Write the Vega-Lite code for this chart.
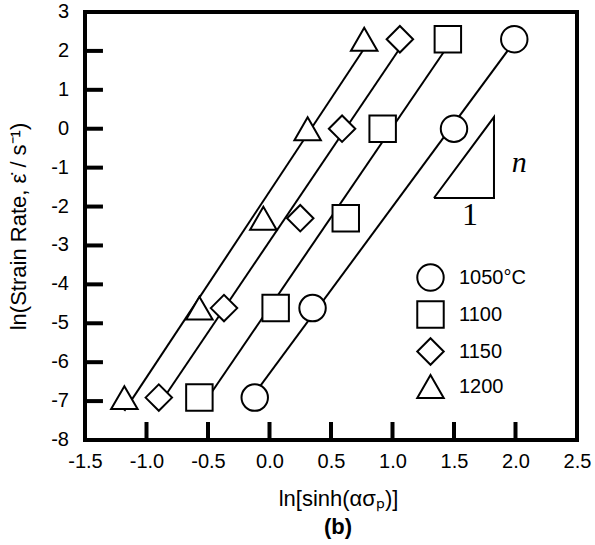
{
  "$schema": "https://vega.github.io/schema/vega-lite/v6.json",
  "width": 492,
  "height": 428,
  "autosize": "none",
  "padding": {"left": 85, "top": 12, "right": 18, "bottom": 105},
  "background": "white",
  "title": {"text": "(b)", "orient": "bottom", "anchor": "middle", "dx": 7, "fontSize": 22, "fontWeight": "bold", "font": "Liberation Sans", "color": "black", "offset": 8},
  "config": {
    "locale": {"number": {"decimal": ".", "thousands": ",", "grouping": [3], "currency": ["$", ""], "minus": "-"}},
    "view": {"stroke": "black", "strokeWidth": 4},
    "axis": {"grid": false, "domain": false, "ticks": false, "labelOverlap": false, "labelFlush": false, "labelFont": "Liberation Sans", "labelFontSize": 20, "labelColor": "black", "titleFont": "Liberation Sans", "titleFontSize": 22, "titleFontWeight": "normal", "titleColor": "black"}
  },
  "resolve": {"legend": {"shape": "independent"}},
  "datasets": {
    "pts": [
      {"x": -0.12, "y": -6.91, "T": "1050°C"},
      {"x": 0.35, "y": -4.61, "T": "1050°C"},
      {"x": 1.50, "y": 0.0, "T": "1050°C"},
      {"x": 1.99, "y": 2.30, "T": "1050°C"},
      {"x": -0.57, "y": -6.91, "T": "1100"},
      {"x": 0.05, "y": -4.61, "T": "1100"},
      {"x": 0.62, "y": -2.30, "T": "1100"},
      {"x": 0.92, "y": 0.0, "T": "1100"},
      {"x": 1.45, "y": 2.30, "T": "1100"},
      {"x": -0.90, "y": -6.91, "T": "1150"},
      {"x": -0.37, "y": -4.61, "T": "1150"},
      {"x": 0.25, "y": -2.30, "T": "1150"},
      {"x": 0.59, "y": 0.0, "T": "1150"},
      {"x": 1.06, "y": 2.30, "T": "1150"},
      {"x": -1.18, "y": -6.91, "T": "1200"},
      {"x": -0.57, "y": -4.61, "T": "1200"},
      {"x": -0.05, "y": -2.30, "T": "1200"},
      {"x": 0.31, "y": 0.0, "T": "1200"},
      {"x": 0.77, "y": 2.30, "T": "1200"}
    ],
    "xticks": [{"v": -1.0}, {"v": -0.5}, {"v": 0.0}, {"v": 0.5}, {"v": 1.0}, {"v": 1.5}, {"v": 2.0}],
    "yticks": [{"v": -7}, {"v": -6}, {"v": -5}, {"v": -4}, {"v": -3}, {"v": -2}, {"v": -1}, {"v": 0}, {"v": 1}, {"v": 2}],
    "ylabels": [{"v": -8}, {"v": -7}, {"v": -6}, {"v": -5}, {"v": -4}, {"v": -3}, {"v": -2}, {"v": -1}, {"v": 0}, {"v": 1}, {"v": 2}, {"v": 3}],
    "tri": [
      {"x": 1.337, "y": -1.78, "o": 1},
      {"x": 1.825, "y": -1.78, "o": 2},
      {"x": 1.825, "y": 0.30, "o": 3},
      {"x": 1.337, "y": -1.78, "o": 4}
    ],
    "noteN": [{"x": 2.03, "y": -0.88, "t": "n"}],
    "note1": [{"x": 1.63, "y": -2.22, "t": "1"}]
  },
  "layer": [
    {
      "data": {"name": "pts"},
      "transform": [{"regression": "y", "on": "x", "groupby": ["T"]}],
      "mark": {"type": "line", "color": "black", "strokeWidth": 2},
      "encoding": {
        "x": {"field": "x", "type": "quantitative", "scale": {"domain": [-1.5, 2.5], "nice": false, "zero": false},
              "axis": {"values": [-1.5, -1, -0.5, 0, 0.5, 1, 1.5, 2, 2.5], "format": ".1f", "labelPadding": 11, "labelOverlap": false, "title": "ln[sinh(ασₚ)]", "titlePadding": 17, "titleX": 253}},
        "y": {"field": "y", "type": "quantitative", "scale": {"domain": [-8, 3], "nice": false, "zero": false},
              "axis": {"labels": false, "title": "ln(Strain Rate, ε̇ / s⁻¹)", "titlePadding": 55}},
        "detail": {"field": "T"}
      }
    },
    {
      "data": {"name": "ylabels"},
      "mark": {"type": "text", "align": "right", "baseline": "middle", "dx": -16, "font": "Liberation Sans", "fontSize": 20, "color": "black"},
      "encoding": {
        "y": {"field": "v", "type": "quantitative"},
        "x": {"datum": -1.5},
        "text": {"field": "v", "type": "quantitative", "format": "d"}
      }
    },
    {
      "data": {"name": "xticks"},
      "mark": {"type": "rule", "color": "black", "strokeWidth": 4},
      "encoding": {
        "x": {"field": "v", "type": "quantitative"},
        "y": {"datum": -8},
        "y2": {"datum": -7.537}
      }
    },
    {
      "data": {"name": "yticks"},
      "mark": {"type": "rule", "color": "black", "strokeWidth": 4},
      "encoding": {
        "y": {"field": "v", "type": "quantitative"},
        "x": {"datum": -1.5},
        "x2": {"datum": -1.354}
      }
    },
    {
      "data": {"name": "pts"},
      "mark": {"type": "point", "filled": true, "fill": "white", "strokeWidth": 0, "opacity": 1, "size": 700},
      "encoding": {
        "x": {"field": "x", "type": "quantitative"},
        "y": {"field": "y", "type": "quantitative"},
        "shape": {"field": "T", "type": "nominal", "scale": {"domain": ["1050°C", "1100", "1150", "1200"], "range": ["circle", "square", "diamond", "triangle-up"]}, "legend": null}
      }
    },
    {
      "data": {"name": "pts"},
      "mark": {"type": "point", "filled": false, "stroke": "black", "color": "black", "strokeWidth": 2, "opacity": 1, "size": 700},
      "encoding": {
        "x": {"field": "x", "type": "quantitative"},
        "y": {"field": "y", "type": "quantitative"},
        "shape": {"field": "T", "type": "nominal",
                  "legend": {"title": null, "orient": "none", "legendX": 331, "legendY": 251, "padding": 0, "symbolSize": 700, "symbolStrokeWidth": 2, "symbolStrokeColor": "black", "labelFont": "Liberation Sans", "labelFontSize": 20, "labelColor": "black", "labelOffset": 14, "rowPadding": 2}}
      }
    },
    {
      "data": {"name": "tri"},
      "mark": {"type": "line", "color": "black", "strokeWidth": 2},
      "encoding": {
        "x": {"field": "x", "type": "quantitative"},
        "y": {"field": "y", "type": "quantitative"},
        "order": {"field": "o"}
      }
    },
    {
      "data": {"name": "noteN"},
      "mark": {"type": "text", "font": "Liberation Serif", "fontSize": 30, "fontStyle": "italic", "color": "black", "align": "center", "baseline": "middle"},
      "encoding": {
        "x": {"field": "x", "type": "quantitative"},
        "y": {"field": "y", "type": "quantitative"},
        "text": {"field": "t"}
      }
    },
    {
      "data": {"name": "note1"},
      "mark": {"type": "text", "font": "Liberation Serif", "fontSize": 32, "color": "black", "align": "center", "baseline": "middle"},
      "encoding": {
        "x": {"field": "x", "type": "quantitative"},
        "y": {"field": "y", "type": "quantitative"},
        "text": {"field": "t"}
      }
    }
  ]
}
